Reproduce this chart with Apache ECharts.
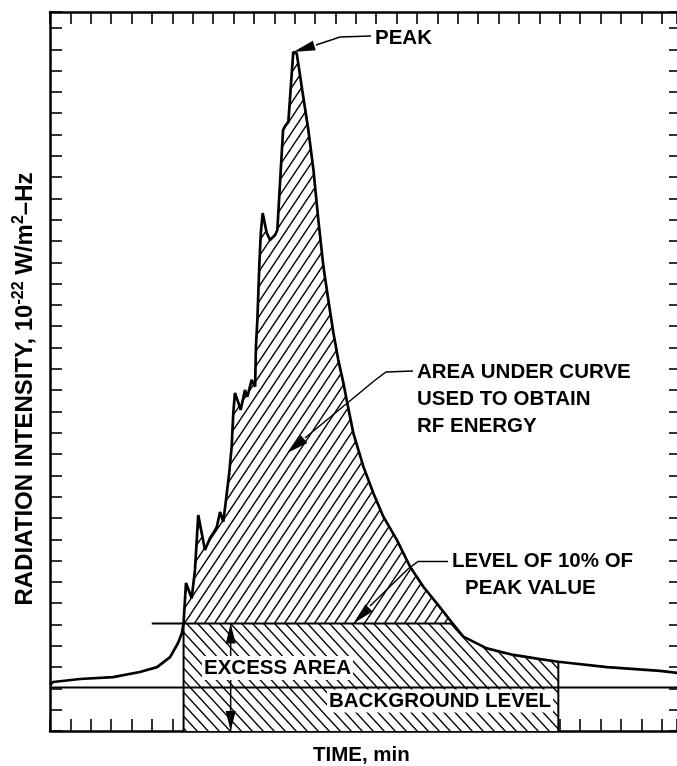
<!DOCTYPE html>
<html>
<head>
<meta charset="utf-8">
<script src="https://cdn.jsdelivr.net/npm/echarts@6/dist/echarts.min.js"></script>
<style>
html,body{margin:0;padding:0;background:#fff;}
#chart{width:677px;height:766px;}
</style>
</head>
<body>
<div id="chart"></div>
<script>
// ---- data (arbitrary tick units: 1 unit = 1 tick interval) ----
const curveX = [0, 0.15, 1.47, 3.09, 4.41, 5.25, 5.89, 6.28, 6.47, 6.55, 6.67, 6.95, 7.11, 7.27, 7.44, 7.60, 7.85, 8.01, 8.18, 8.34, 8.50, 8.63, 8.79, 8.91, 8.99, 9.07, 9.24, 9.35, 9.56, 9.68, 9.89, 10.06, 10.10, 10.17, 10.27, 10.34, 10.43, 10.63, 10.79, 11.04, 11.15, 11.43, 11.53, 11.69, 11.93, 12.10, 12.42, 12.67, 12.92, 13.16, 13.41, 13.65, 13.90, 14.14, 14.39, 14.55, 14.88, 15.37, 15.86, 16.35, 17.01, 17.66, 18.31, 18.97, 19.72, 20.27, 21.42, 22.73, 24.04, 24.93, 27.32, 29.92, 31.0];
const curveY = [2.16, 2.30, 2.44, 2.53, 2.77, 3.00, 3.47, 4.13, 4.60, 5.07, 6.95, 6.23, 7.56, 10.14, 9.29, 8.50, 9.06, 9.29, 9.58, 10.28, 9.82, 10.84, 12.11, 13.35, 14.93, 15.87, 15.40, 15.07, 16.01, 15.69, 16.48, 16.16, 18.04, 19.29, 21.97, 23.38, 24.31, 23.38, 23.05, 23.28, 23.52, 28.21, 28.40, 28.59, 31.87, 31.81, 29.77, 28.21, 26.34, 23.99, 21.79, 20.23, 18.68, 17.41, 16.33, 15.54, 13.97, 12.41, 11.16, 10.06, 8.97, 7.71, 6.77, 5.99, 5.08, 4.43, 3.88, 3.57, 3.37, 3.25, 3.00, 2.82, 2.70];
const backgroundLevel = 2.04;
const tenPercentLevel = 5.05;
const tenPercentLineStartX = 4.99;
const tenPercentCrossX = 19.72;
const excessStartX = 6.55;
const excessEndX = 24.93;
const areaArrowTip = [11.63, 13.05];
const levelArrowTipX = 14.88;
const excessArrowX = 8.86;
const xRange = [0, 30.75];
const yRange = [0, 33.75];

const labels = {
  peak: 'PEAK',
  area: ['AREA UNDER CURVE', 'USED TO OBTAIN', 'RF ENERGY'],
  level: ['LEVEL OF 10% OF', 'PEAK VALUE'],
  excess: 'EXCESS AREA',
  background: 'BACKGROUND LEVEL',
  xName: 'TIME, min'
};

// ---- helpers ----
function curveAt(x) {
  for (let i = 1; i < curveX.length; i++) {
    if (x <= curveX[i]) {
      const t = (x - curveX[i - 1]) / (curveX[i] - curveX[i - 1]);
      return curveY[i - 1] + t * (curveY[i] - curveY[i - 1]);
    }
  }
  return curveY[curveY.length - 1];
}
function hatch(w, h, dir) {
  const c = document.createElement('canvas');
  c.width = w; c.height = h;
  const g = c.getContext('2d');
  g.fillStyle = '#fff'; g.fillRect(0, 0, w, h);
  g.strokeStyle = '#000'; g.lineWidth = 1.4;
  for (let k = -2; k <= 2; k++) {
    g.beginPath();
    if (dir > 0) { g.moveTo(k * w - w, 2 * h); g.lineTo(k * w + 2 * w, -h); }
    else { g.moveTo(k * w - w, -h); g.lineTo(k * w + 2 * w, 2 * h); }
    g.stroke();
  }
  return c;
}

const curveData = curveX.map((x, i) => [x, curveY[i]]);
const upperData = curveData.filter(p => p[0] >= excessStartX && p[0] <= tenPercentCrossX);
const lowerData = [[excessStartX, tenPercentLevel]].concat(
  curveData.filter(p => p[0] > excessStartX && p[0] <= excessEndX)
    .map(p => [p[0], Math.min(p[1], tenPercentLevel)]));

const chart = echarts.init(document.getElementById('chart'), null, {renderer: 'canvas'});
const FONT = '"Liberation Sans", Arial, sans-serif';
function axis(extra, lineShow, tickLen) {
  return Object.assign({
    type: 'value', interval: 1,
    axisLine: {show: lineShow, onZero: false, lineStyle: {color: '#000', width: 2.5}},
    axisTick: {show: true, inside: true, length: tickLen, lineStyle: {color: '#000', width: 1.6}},
    axisLabel: {show: false},
    splitLine: {show: false}
  }, extra);
}
const thinLine = (data, w) => ({
  type: 'line', data, symbol: 'none', silent: true, z: 4,
  lineStyle: {color: '#000', width: w}, animation: false
});

chart.setOption({
  animation: false,
  backgroundColor: '#fff',
  grid: {left: 50, right: 0, top: 12, bottom: 35},
  xAxis: [
    axis({min: xRange[0], max: xRange[1], position: 'bottom'}, true, 12),
    axis({min: xRange[0], max: xRange[1], position: 'top'}, true, 12)
  ],
  yAxis: [
    axis({min: yRange[0], max: yRange[1], position: 'left'}, true, 12),
    axis({min: yRange[0], max: yRange[1], position: 'right'}, false, 8)
  ],
  series: [
    {type: 'line', data: lowerData, symbol: 'none', z: 1, silent: true,
     lineStyle: {width: 0}, areaStyle: {origin: 'start', opacity: 1, color: {image: hatch(11, 12, -1), repeat: 'repeat'}}},
    {type: 'line', data: upperData, symbol: 'none', z: 1, silent: true,
     lineStyle: {width: 0}, areaStyle: {origin: tenPercentLevel, opacity: 1, color: {image: hatch(10, 15, 1), repeat: 'repeat'}}},
    thinLine([[xRange[0], backgroundLevel], [xRange[1], backgroundLevel]], 2),
    thinLine([[tenPercentLineStartX, tenPercentLevel], [tenPercentCrossX, tenPercentLevel]], 2),
    thinLine([[excessStartX, 0], [excessStartX, tenPercentLevel]], 2),
    thinLine([[excessEndX, 0], [excessEndX, curveAt(excessEndX)]], 2),
    Object.assign(thinLine(curveData, 2.7), {z: 5})
  ]
});

// ---- annotations ----
const px = p => chart.convertToPixel({gridIndex: 0}, p);
function head(tip, from, L, W) {
  const dx = from[0] - tip[0], dy = from[1] - tip[1];
  const d = Math.hypot(dx, dy), ux = dx / d, uy = dy / d;
  const bx = tip[0] + ux * L, by = tip[1] + uy * L;
  return {type: 'polygon', z: 100, shape: {points: [tip, [bx - uy * W, by + ux * W], [bx + uy * W, by - ux * W]]},
          style: {fill: '#000'}};
}
function poly(points, w) {
  return {type: 'polyline', z: 100, shape: {points}, style: {stroke: '#000', lineWidth: w || 1.5, fill: null}};
}
function txt(text, x, y, opts) {
  return Object.assign({type: 'text', z: 102, x, y, style: Object.assign({
    text, fill: '#000', fontFamily: FONT, fontSize: 20.5, fontWeight: 'bold',
    textAlign: 'left', textVerticalAlign: 'middle'}, opts || {})});
}

let peakIdx = 0;
curveY.forEach((v, i) => { if (v > curveY[peakIdx]) peakIdx = i; });
const peakTip = px([curveX[peakIdx], curveY[peakIdx]]);
const areaTip = px(areaArrowTip);
const levelTip = px([levelArrowTipX, tenPercentLevel]);
const exTop = px([excessArrowX, tenPercentLevel]);
const exBot = px([excessArrowX, 0]);

const g = [];
// PEAK
g.push(poly([[371, 36], [340, 37], [316, 45]]));
g.push(head(peakTip, [316, 45], 22, 5));
g.push(txt(labels.peak, 375, 38));
// AREA UNDER CURVE
g.push(poly([[413, 371], [386, 372], [374, 381], [305, 438]]));
g.push(head(areaTip, [320, 426], 22, 5));
labels.area.forEach((t, i) => g.push(txt(t, 417, 372 + i * 27)));
// LEVEL OF 10%
g.push(poly([[448, 561.5], [418, 561.5], [408, 569], [370, 606]]));
g.push(head(levelTip, [385, 592], 22, 5));
g.push(txt(labels.level[0], 452, 561));
g.push(txt(labels.level[1], 465, 588));
// excess double arrow
g.push(poly([exTop, exBot], 1.5));
g.push(head(exTop, exBot, 20, 5));
g.push(head(exBot, exTop, 20, 5));
g.push(txt(labels.excess, 202, 668, {backgroundColor: '#fff', padding: [2, 2, 1, 2]}));
g.push(txt(labels.background, 327, 701, {backgroundColor: '#fff', padding: [1, 2, 1, 2]}));
// axis titles
g.push(txt(labels.xName, 313, 755));
g.push({type: 'text', z: 102, x: 25, y: 389, rotation: Math.PI / 2, style: {
  text: '{n|RADIATION INTENSITY, 10}{s|-22}{n| W/m}{s|2}{n|–Hz}',
  textAlign: 'center', textVerticalAlign: 'middle',
  rich: {
    n: {fontFamily: FONT, fontSize: 24, fontWeight: 'bold', lineHeight: 29, fill: '#000'},
    s: {fontFamily: FONT, fontSize: 16, fontWeight: 'bold', lineHeight: 16, verticalAlign: 'top', fill: '#000'}
  }
}});
chart.setOption({graphic: g});
</script>
</body>
</html>
